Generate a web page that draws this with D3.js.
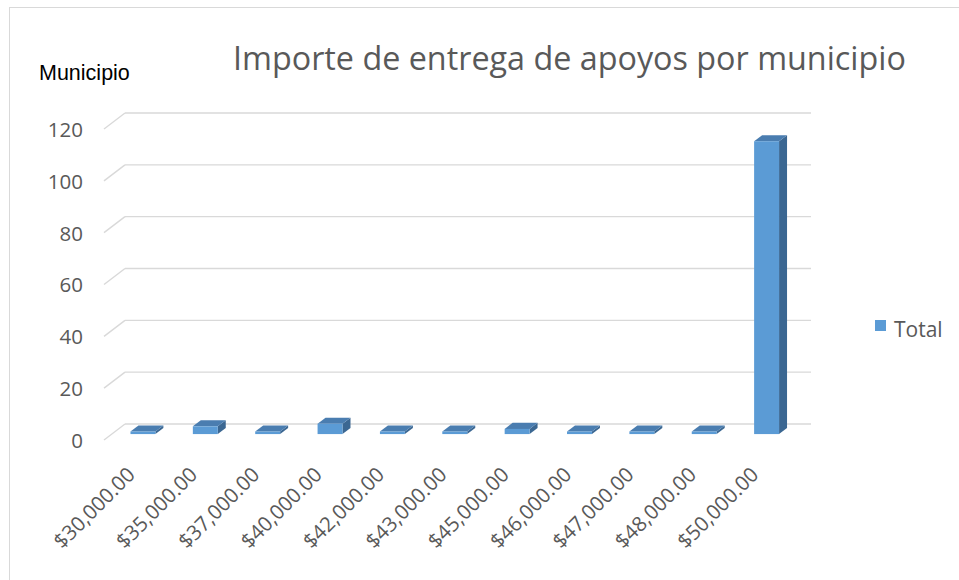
<!DOCTYPE html>
<html>
<head>
<meta charset="utf-8">
<script src="https://cdn.jsdelivr.net/npm/d3@7"></script>
<style>
  html, body { margin: 0; padding: 0; background: #ffffff; }
  svg { display: block; }
</style>
</head>
<body>
<svg id="chart" width="959" height="580"></svg>
<script>
// ---- data ----
const categories = ["$30,000.00", "$35,000.00", "$37,000.00", "$40,000.00", "$42,000.00",
                    "$43,000.00", "$45,000.00", "$46,000.00", "$47,000.00", "$48,000.00", "$50,000.00"];
const totals = [1, 3, 1, 4, 1, 1, 2, 1, 1, 1, 113];
const yTicks = [0, 20, 40, 60, 80, 100, 120];
const titleText = "Importe de entrega de apoyos por municipio";
const yAxisTitle = "Municipio";
const seriesName = "Total";

// ---- layout ----
const W = 959, H = 580;
const frontLeft = 104, frontRight = 790;
const depth = { dx: 21, dy: -16 };       // oblique depth from front plane to back wall
const barT0 = 0.37, barT1 = 0.75;          // bar depth span (fraction of depth)
const colFront = "#5b9bd5", colTop = "#4a7db0", colSide = "#3b6792";
const gridCol = "#d9d9d9", textCol = "#595959";

const svg = d3.select("#chart");
svg.append("rect").attr("x", 0).attr("y", 0).attr("width", W).attr("height", H).attr("fill", "#fff");
svg.append("rect").attr("x", 9.5).attr("y", 7.5).attr("width", W + 10).attr("height", H + 10)
  .attr("fill", "none").attr("stroke", gridCol).attr("stroke-width", 1);

const x = d3.scaleBand().domain(categories).range([frontLeft, frontRight])
  .paddingInner(0.6).paddingOuter(0.3);
const y = d3.scaleLinear().domain([0, 120]).range([440, 129]);

// ---- gridlines (back wall + left side wall) ----
const grid = svg.append("g");
yTicks.forEach(v => {
  const yf = y(v), yb = y(v) + depth.dy;
  grid.append("line")
    .attr("x1", frontLeft).attr("y1", yf)
    .attr("x2", frontLeft + depth.dx).attr("y2", yb)
    .attr("stroke", gridCol).attr("stroke-width", 1.4);
  grid.append("line")
    .attr("x1", frontLeft + depth.dx).attr("y1", yb)
    .attr("x2", frontRight + depth.dx).attr("y2", yb)
    .attr("stroke", gridCol).attr("stroke-width", 1.4);
});

// ---- 3D bars ----
const bars = svg.append("g");
const ox = depth.dx * barT0, oy = depth.dy * barT0;
const bdx = depth.dx * (barT1 - barT0), bdy = depth.dy * (barT1 - barT0);
categories.forEach((c, i) => {
  const v = totals[i];
  const x0 = x(c) + ox, x1 = x(c) + x.bandwidth() + ox;
  const yb = y(0) + oy, yt = y(v) + oy;
  bars.append("path")
    .attr("d", `M${x1},${yb} L${x1 + bdx},${yb + bdy} L${x1 + bdx},${yt + bdy} L${x1},${yt} Z`)
    .attr("fill", colSide);
  bars.append("path")
    .attr("d", `M${x0},${yt} L${x1},${yt} L${x1 + bdx},${yt + bdy} L${x0 + bdx},${yt + bdy} Z`)
    .attr("fill", colTop);
  bars.append("rect")
    .attr("x", x0).attr("y", yt).attr("width", x1 - x0).attr("height", yb - yt)
    .attr("fill", colFront);
});

// ---- y axis labels ----
const yAxis = svg.append("g").attr("transform", "translate(83,0)")
  .call(d3.axisLeft(y).tickValues(yTicks).tickSize(0).tickPadding(0));
yAxis.select(".domain").remove();
yAxis.selectAll("text")
  .attr("font-family", "'Open Sans', sans-serif").attr("font-size", 20.5)
  .attr("fill", textCol).attr("dy", "0.36em");

// ---- x axis labels ----
const xAxis = svg.append("g").attr("transform", "translate(1,476)")
  .call(d3.axisBottom(x).tickSize(0).tickPadding(0));
xAxis.select(".domain").remove();
xAxis.selectAll("text")
  .attr("x", 0).attr("y", 0).attr("dy", 0)
  .attr("text-anchor", "end")
  .attr("transform", "rotate(-45)")
  .attr("font-family", "'Open Sans', sans-serif").attr("font-size", 20.5)
  .attr("fill", textCol);

// ---- titles ----
const title = svg.append("text")
  .attr("x", 233).attr("y", 70)
  .attr("font-family", "'Open Sans', sans-serif").attr("font-size", 32)
  .attr("fill", textCol).text(titleText);
const tw = title.node().getComputedTextLength();
title.attr("font-size", 32 * 673 / tw);

svg.append("text").attr("x", 39).attr("y", 80)
  .attr("font-family", "'Liberation Sans', Arial, sans-serif").attr("font-size", 21.5)
  .attr("fill", "#000").text(yAxisTitle);

// ---- legend ----
svg.append("rect").attr("x", 875).attr("y", 320).attr("width", 11).attr("height", 11).attr("fill", colFront);
svg.append("text").attr("x", 894).attr("y", 337)
  .attr("font-family", "'Open Sans', sans-serif").attr("font-size", 21)
  .attr("fill", textCol).text(seriesName);
</script>
</body>
</html>
